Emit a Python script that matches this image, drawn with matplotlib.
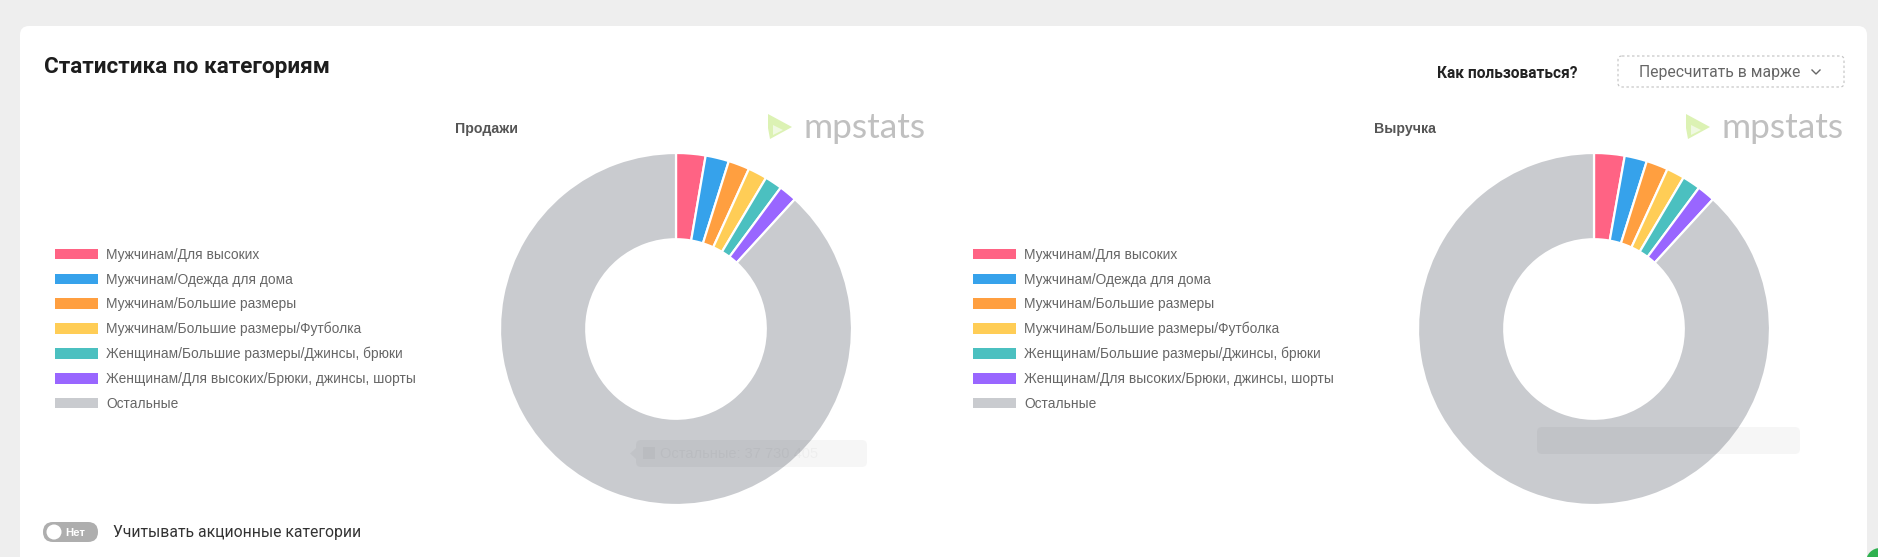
import matplotlib
matplotlib.use('Agg')
import matplotlib.pyplot as plt
from matplotlib.patches import FancyBboxPatch, Rectangle, Circle, Polygon

plt.rcParams['font.family'] = ['Liberation Sans', 'DejaVu Sans']

# ---------------- data ----------------
categories = [
    'Мужчинам/Для высоких',
    'Мужчинам/Одежда для дома',
    'Мужчинам/Большие размеры',
    'Мужчинам/Большие размеры/Футболка',
    'Женщинам/Большие размеры/Джинсы, брюки',
    'Женщинам/Для высоких/Брюки, джинсы, шорты',
    'Остальные',
]
colors = ['#FF6384', '#36A2EB', '#FF9F40', '#FFCD56', '#4BC0C0', '#9966FF', '#C9CBCF']
sales_share = [2.70, 2.15, 1.95, 1.75, 1.60, 1.65, 88.20]
revenue_share = [2.80, 2.05, 2.00, 1.65, 1.67, 1.64, 88.19]
chart_titles = ['Продажи', 'Выручка']

W, H = 1878, 557
fig = plt.figure(figsize=(W / 100, H / 100), dpi=100)
fig.patch.set_facecolor('#eeeeee')

bg = fig.add_axes([0, 0, 1, 1])
bg.set_xlim(0, W)
bg.set_ylim(H, 0)
bg.axis('off')

ROBOTO = ['Roboto', 'DejaVu Sans']

# card
bg.add_patch(FancyBboxPatch((20, 26), 1847, 600, boxstyle='round,pad=0,rounding_size=9',
                            fc='white', ec='none'))

bg.text(44, 67, 'Статистика по категориям', fontsize=16.2, fontweight='bold',
        family=ROBOTO, color='#1d1d1d', va='center', ha='left')

bg.text(1437, 73, 'Как пользоваться?', fontsize=11.2, fontweight='bold',
        family=ROBOTO, color='#222222', va='center', ha='left')
bg.add_patch(FancyBboxPatch((1618, 56), 226, 31, boxstyle='round,pad=0,rounding_size=4',
                            fc='white', ec='#c8c8c8', lw=0.9, ls=(0, (2, 2))))
bg.text(1639, 72, 'Пересчитать в марже', fontsize=11.3,
        family=ROBOTO, color='#666666', va='center', ha='left')
bg.plot([1812, 1816, 1820], [70, 74, 70], color='#666666', lw=1.0)

# toggle
bg.add_patch(FancyBboxPatch((43, 522), 55, 20, boxstyle='round,pad=0,rounding_size=10',
                            fc='#aeaeae', ec='none'))
bg.add_patch(Circle((54, 532), 7.5, fc='white', ec='none'))
bg.text(65, 532.5, 'Нет', fontsize=8.2, fontweight='bold', color='white', va='center', ha='left')
bg.text(113, 532, 'Учитывать акционные категории', fontsize=11.35,
        family=ROBOTO, color='#333333', va='center', ha='left')


def logo(x, y):
    bg.add_patch(Polygon([[x, y - 12], [x + 24, y + 1], [x + 2, y + 13], [x, y + 2]], closed=True,
                         fc='#dcf2b4', ec='none', zorder=3))
    bg.add_patch(Polygon([[x + 5, y - 1], [x + 15, y + 4], [x + 5, y + 9]], closed=True,
                         fc='#f0f9e2', ec='none', zorder=3))
    bg.text(x + 36, y + 2, 'mpstats', fontsize=25.5, family=['Lato', 'DejaVu Sans'],
            color='#c0c0c0', va='center', ha='left', zorder=3)


def px_axes(x0, y0, w, h):
    return fig.add_axes([x0 / W, 1 - (y0 + h) / H, w / W, h / H])


def donut(cx, cy, r, values, title, title_x, leg_x):
    ax = px_axes(cx - r, cy - r, 2 * r, 2 * r)
    ax.pie(values, colors=colors, startangle=90, counterclock=False, radius=1,
           wedgeprops=dict(width=0.49, edgecolor='white', linewidth=1.6))
    ax.set_xlim(-1, 1)
    ax.set_ylim(-1, 1)
    ax.set_aspect('auto')
    ax.axis('off')
    bg.text(title_x, 129, title, fontsize=10.2, fontweight='bold', color='#555555',
            va='center', ha='left')
    handles = [Rectangle((0, 0), 1, 1, fc=c, ec='none') for c in colors]
    ax.legend(handles, categories, loc='upper left',
              bbox_to_anchor=(leg_x / W, 1 - 248 / H), bbox_transform=fig.transFigure,
              frameon=False, fontsize=9.95, handlelength=3.1, handleheight=0.8,
              handletextpad=0.62, labelspacing=0.77, borderpad=0, borderaxespad=0,
              labelcolor='#666666')
    return ax


ax1 = donut(676, 329, 176, sales_share, chart_titles[0], 455, 55)
ax2 = donut(1594, 329, 176, revenue_share, chart_titles[1], 1374, 973)

# ghost tooltips
ov = fig.add_axes([0, 0, 1, 1], zorder=10)
ov.set_xlim(0, W)
ov.set_ylim(H, 0)
ov.axis('off')
for (x0, x1, y0) in [(636, 867, 440), (1537, 1800, 427)]:
    ov.add_patch(FancyBboxPatch((x0, y0), x1 - x0, 27,
                                boxstyle='round,pad=0,rounding_size=5',
                                fc='black', alpha=0.037, ec='none'))
ov.add_patch(Polygon([[636, 448], [630, 453.5], [636, 459]], fc='black', alpha=0.037, ec='none'))
ov.add_patch(Rectangle((643, 447), 12, 12, fc='black', alpha=0.03, ec='none'))
ov.text(660, 453.5, 'Остальные: 37 730 405', fontsize=10.5, color='black', alpha=0.03,
        va='center', ha='left')

logo(768, 126)
logo(1686, 126)

# partial green chat icon
ov.add_patch(Circle((1880, 562), 14, fc='#2fb150', ec='none'))

fig.savefig('out.png', dpi=100, facecolor=fig.get_facecolor())
